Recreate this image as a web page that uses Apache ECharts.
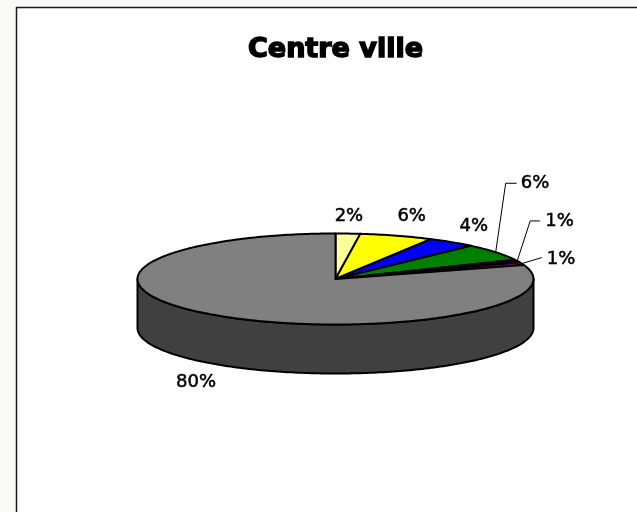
<!DOCTYPE html>
<html><head><meta charset="utf-8">
<script src="https://cdn.jsdelivr.net/npm/echarts@6/dist/echarts.min.js"></script>
<style>html,body{margin:0;padding:0;background:#f9f9f5;} #c{width:637px;height:512px;}</style>
</head><body><div id="c"></div>
<script>
// ---- data ----
const chartTitle = 'Centre ville';
const categories = ['Part 1', 'Part 2', 'Part 3', 'Part 4', 'Part 5', 'Part 6', 'Part 7'];
const values = [2, 6, 4, 6, 1, 1, 80];
const labels = ['2%', '6%', '4%', '6%', '1%', '1%', '80%'];

// ---- style / layout ----
const colors = ['#FFFF99', '#FFFF00', '#0000FF', '#008000', '#000000', '#800080', '#808080'];
const sideColors = ['#999960', '#999900', '#000099', '#004c00', '#000000', '#4c004c', '#404040'];
const depth = 1.077; // thickness of the disc, in y-axis units
// label offsets (px) from the slice's mid-angle rim point; optional leader polyline
const labelLayout = [
  { dx: 1, dy: -17 },
  { dx: 15, dy: -19 },
  { dx: 22, dy: -16 },
  { dx: 25, dy: -69, align: 'left', leader: [[10, -69], [21, -69]] },
  { dx: 28, dy: -40, align: 'left', leader: [[13, -40], [23, -40]] },
  { dx: 25, dy: -4, align: 'left', leader: [[20, -6]] },
  { dx: -23, dy: 67 }
];

const total = values.reduce((a, b) => a + b, 0);

function renderItem(params, api) {
  const i = params.dataIndex;
  let cum = 0;
  for (let k = 0; k < i; k++) cum += values[k];
  const v = api.value(2);
  const a0 = cum / total * 2 * Math.PI;
  const a1 = (cum + v) / total * 2 * Math.PI;
  const pt = (a, dz) => api.coord([Math.sin(a), Math.cos(a) - (dz || 0)]);
  const deg = Math.PI / 180;
  const children = [];

  // front side (visible where the rim faces the viewer)
  const f0 = Math.max(a0, Math.PI / 2), f1 = Math.min(a1, 1.5 * Math.PI);
  if (f1 > f0) {
    const n = Math.max(2, Math.ceil((f1 - f0) / deg));
    const side = [];
    for (let s = 0; s <= n; s++) side.push(pt(f0 + (f1 - f0) * s / n));
    for (let s = n; s >= 0; s--) side.push(pt(f0 + (f1 - f0) * s / n, depth));
    children.push({
      type: 'polygon', shape: { points: side },
      style: { fill: sideColors[i], stroke: '#000', lineWidth: 2, lineJoin: 'round' }
    });
  }

  // top face
  const steps = Math.max(2, Math.ceil((a1 - a0) / deg));
  const top = [api.coord([0, 0])];
  for (let s = 0; s <= steps; s++) top.push(pt(a0 + (a1 - a0) * s / steps));
  children.push({
    type: 'polygon', shape: { points: top },
    style: { fill: colors[i], stroke: '#000', lineWidth: 2, lineJoin: 'round' }
  });

  // label
  const am = (a0 + a1) / 2;
  const p = pt(am);
  const L = labelLayout[i];
  if (L.leader) {
    const pts = [[p[0], p[1]]].concat(L.leader.map(q => [p[0] + q[0], p[1] + q[1]]));
    children.push({
      type: 'polyline', shape: { points: pts },
      style: { stroke: '#000', lineWidth: 1, fill: null }
    });
  }
  children.push({
    type: 'text', x: p[0] + L.dx, y: p[1] + L.dy,
    style: {
      text: labels[i], fill: '#000', font: '18px "DejaVu Sans"',
      stroke: '#000', lineWidth: 0.5,
      textAlign: L.align || 'center', textVerticalAlign: 'middle'
    }
  });
  return { type: 'group', children: children };
}

const chart = echarts.init(document.getElementById('c'), null, { renderer: 'canvas' });
chart.setOption({
  animation: false,
  backgroundColor: 'transparent',
  title: {
    text: chartTitle, left: 243, top: 31,
    textStyle: {
      fontFamily: 'DejaVu Sans', fontWeight: 'bold', fontSize: 27, color: '#000',
      textBorderColor: '#000', textBorderWidth: 1.5
    }
  },
  graphic: [{
    type: 'rect', z: -10, silent: true,
    shape: { x: 16.5, y: 7.5, width: 700, height: 600 },
    style: { fill: '#ffffff', stroke: '#1a1a1a', lineWidth: 1.5 }
  }],
  grid: { left: 137.5, right: 103.5, top: 233.5, bottom: 187.5 },
  xAxis: { type: 'value', min: -1, max: 1, show: false },
  yAxis: { type: 'value', min: -1, max: 1, show: false },
  series: [{
    type: 'custom',
    coordinateSystem: 'cartesian2d',
    clip: false,
    renderItem: renderItem,
    encode: { x: 0, y: 1 },
    data: values.map((v, i) => ({ name: categories[i], value: [0, 0, v] }))
  }]
});
</script>
</body></html>
